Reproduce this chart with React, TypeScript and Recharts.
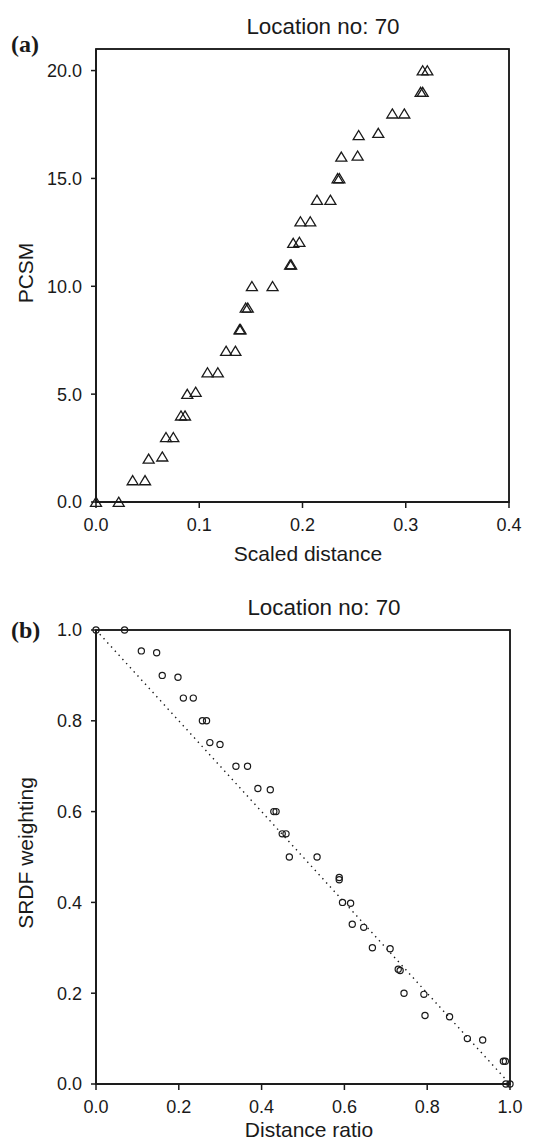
import React from 'react';
import * as R from 'recharts';

const { ScatterChart, Scatter, XAxis, YAxis, ReferenceLine } = R as any;
const usePlotAreaHook: any = (R as any).usePlotArea || (() => null);

// Panel (a): PCSM vs scaled distance
const scaledDistance = [0.0, 0.022, 0.0355, 0.0475, 0.051, 0.0642, 0.0678, 0.0749, 0.0823, 0.0862, 0.0884, 0.0965, 0.108, 0.118, 0.126, 0.135, 0.139, 0.140, 0.145, 0.147, 0.151, 0.171, 0.188, 0.189, 0.191, 0.197, 0.198, 0.2075, 0.214, 0.227, 0.234, 0.2357, 0.2376, 0.2534, 0.2544, 0.2734, 0.287, 0.2986, 0.3144, 0.3164, 0.3164, 0.3209];
const pcsm = [0, 0, 1, 1, 2, 2.1, 3, 3, 4, 4, 5, 5.1, 6, 6, 7, 7, 8, 8, 9, 9, 10, 10, 11, 11, 12, 12.05, 13, 13, 14, 14, 15, 15, 16, 16.05, 17, 17.1, 18, 18, 19, 19, 20, 20];
const xTicksA = [0, 0.1, 0.2, 0.3, 0.4];
const yTicksA = [0, 5, 10, 15, 20];
const domainXA = [0, 0.4];
const domainYA = [0, 21];

// Panel (b): SRDF weighting vs distance ratio
const distanceRatio = [0, 0.069, 0.1095, 0.1465, 0.16, 0.198, 0.211, 0.235, 0.257, 0.267, 0.275, 0.2995, 0.338, 0.366, 0.391, 0.421, 0.4295, 0.435, 0.4498, 0.459, 0.467, 0.534, 0.5875, 0.5875, 0.5954, 0.615, 0.619, 0.6466, 0.6676, 0.7104, 0.73, 0.7346, 0.744, 0.792, 0.7947, 0.854, 0.897, 0.934, 0.984, 0.9887, 0.99, 1.0];
const weighting = [1, 1, 0.954, 0.95, 0.9, 0.896, 0.85, 0.85, 0.8, 0.8, 0.752, 0.748, 0.7, 0.7, 0.651, 0.648, 0.6, 0.6, 0.551, 0.551, 0.5, 0.5, 0.455, 0.45, 0.4, 0.398, 0.352, 0.345, 0.3, 0.298, 0.253, 0.25, 0.2, 0.1975, 0.151, 0.148, 0.1, 0.097, 0.05, 0.05, 0, 0];
const xTicksB = [0, 0.2, 0.4, 0.6, 0.8, 1.0];
const yTicksB = [0, 0.2, 0.4, 0.6, 0.8, 1.0];
const domainXB = [0, 1];
const domainYB = [0, 1];

const titleText = 'Location no: 70';

const dataA = scaledDistance.map((x, i) => ({ x, y: pcsm[i] }));
const dataB = distanceRatio.map((x, i) => ({ x, y: weighting[i] }));

// layout
const CHART_W = 539;
const Y_AXIS_W = 96;
const X_AXIS_H = 58;
const layoutA = { top: 0, height: 560, marginTop: 49, marginRight: 30 };
const layoutB = { top: 600, height: 542, marginTop: 30, marginRight: 29 };

const INK = '#1a1a1a';
const SANS = '"Liberation Sans", Arial, Helvetica, sans-serif';
const tickStyle = { fontSize: 18, fill: INK, fontFamily: SANS };
const fmt1 = (v: number) => v.toFixed(1);

const Triangle = (props: any) => {
  const { cx, cy } = props;
  if (cx == null || cy == null) return <g />;
  return (
    <path
      d={`M${cx},${cy - 4.8} L${cx + 5.5},${cy + 4.3} L${cx - 5.5},${cy + 4.3} Z`}
      fill="none"
      stroke={INK}
      strokeWidth={1.3}
    />
  );
};

const Circle = (props: any) => {
  const { cx, cy } = props;
  if (cx == null || cy == null) return <g />;
  return <circle cx={cx} cy={cy} r={3.1} fill="none" stroke={INK} strokeWidth={1.2} />;
};

// Box around the plot area, taken from the chart's own layout when available
const Frame = () => {
  const area = usePlotAreaHook();
  if (!area || area.width == null) return null;
  return (
    <rect x={area.x} y={area.y} width={area.width} height={area.height} fill="none" stroke={INK} strokeWidth={1.5} />
  );
};

// Same box, derived from the layout constants used for the chart margins
const frameRect = (l: { top: number; height: number; marginTop: number; marginRight: number }) => ({
  x: Y_AXIS_W,
  y: l.top + l.marginTop,
  width: CHART_W - l.marginRight - Y_AXIS_W,
  height: l.height - l.marginTop - X_AXIS_H,
});

const axisLine = { stroke: INK, strokeWidth: 1.5 };

const Panel = (p: {
  data: { x: number; y: number }[];
  dx: number[];
  dy: number[];
  xt: number[];
  yt: number[];
  layout: { top: number; height: number; marginTop: number; marginRight: number };
  shape: any;
  diagonal?: boolean;
}) => (
  <ScatterChart
    width={CHART_W}
    height={p.layout.height}
    margin={{ top: p.layout.marginTop, right: p.layout.marginRight, left: 0, bottom: 0 }}
  >
    <XAxis
      type="number"
      dataKey="x"
      domain={p.dx}
      ticks={p.xt}
      interval={0}
      tickFormatter={fmt1}
      height={X_AXIS_H}
      tick={tickStyle}
      tickSize={6}
      tickMargin={10}
      axisLine={axisLine}
      tickLine={axisLine}
    />
    <YAxis
      type="number"
      dataKey="y"
      domain={p.dy}
      ticks={p.yt}
      interval={0}
      tickFormatter={fmt1}
      width={Y_AXIS_W}
      tick={tickStyle}
      tickSize={5}
      tickMargin={9}
      axisLine={axisLine}
      tickLine={axisLine}
    />
    <Frame />
    {p.diagonal ? (
      <ReferenceLine
        segment={[{ x: p.dx[0], y: p.dy[1] }, { x: p.dx[1], y: p.dy[0] }]}
        stroke={INK}
        strokeWidth={1.4}
        strokeDasharray="1.4 4.2"
      />
    ) : null}
    <Scatter data={p.data} shape={p.shape} isAnimationActive={false} />
  </ScatterChart>
);

export default function App() {
  const fa = frameRect(layoutA);
  const fb = frameRect(layoutB);
  return (
    <div style={{ position: 'absolute', left: 0, top: 0, width: CHART_W, height: 1142, background: '#fff' }}>
      <div style={{ position: 'absolute', left: 0, top: layoutA.top }}>
        <Panel data={dataA} dx={domainXA} dy={domainYA} xt={xTicksA} yt={yTicksA} layout={layoutA} shape={Triangle} />
      </div>
      <div style={{ position: 'absolute', left: 0, top: layoutB.top }}>
        <Panel data={dataB} dx={domainXB} dy={domainYB} xt={xTicksB} yt={yTicksB} layout={layoutB} shape={Circle} diagonal />
      </div>
      <svg
        width={CHART_W}
        height={1142}
        style={{ position: 'absolute', left: 0, top: 0, pointerEvents: 'none' }}
      >
        <rect x={fa.x} y={fa.y} width={fa.width} height={fa.height} fill="none" stroke={INK} strokeWidth={1.5} />
        <rect x={fb.x} y={fb.y} width={fb.width} height={fb.height} fill="none" stroke={INK} strokeWidth={1.5} />
        <g fontFamily={SANS} fill={INK}>
          <text x={323} y={33.5} fontSize={22.4} textAnchor="middle">{titleText}</text>
          <text x={324} y={615} fontSize={22.4} textAnchor="middle">{titleText}</text>
          <text x={308} y={561} fontSize={21} textAnchor="middle">Scaled distance</text>
          <text x={309} y={1137} fontSize={21} textAnchor="middle">Distance ratio</text>
          <text transform="translate(32.5,273) rotate(-90)" fontSize={21} textAnchor="middle">PCSM</text>
          <text transform="translate(32.5,853) rotate(-90)" fontSize={21} textAnchor="middle">SRDF weighting</text>
        </g>
        <g fontFamily='"Liberation Serif", "Times New Roman", serif' fontWeight="bold" fill={INK}>
          <text x={11} y={52} fontSize={24}>(a)</text>
          <text x={11} y={638} fontSize={24}>(b)</text>
        </g>
      </svg>
    </div>
  );
}
